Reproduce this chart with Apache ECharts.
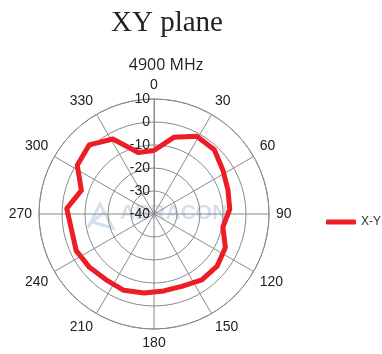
<!DOCTYPE html>
<html>
<head>
<meta charset="utf-8">
<script src="https://cdn.jsdelivr.net/npm/echarts@6/dist/echarts.min.js"></script>
<style>html,body{margin:0;padding:0;background:#fff}#c{width:382px;height:354px}</style>
</head>
<body>
<div id="c"></div>
<script>
const angles = [0, 14.4, 28.8, 43.2, 57.6, 72, 86.4, 100.8, 115.2, 129.6, 144, 158.4, 172.8, 187.2, 201.6, 216, 230.4, 244.8, 259.2, 273.6, 288, 302.4, 316.8, 331.2, 345.6, 360];
const gainXY = [-12.4, -5.6, -1.4, -1.7, -4.5, -6.2, -7.0, -9.5, -5.7, -4.4, -4.6, -6.3, -6.3, -5.4, -4.3, -4.6, -3.6, -2.6, -3.5, -2.0, -6.8, -0.5, 1.2, -2.8, -12.4, -12.4];
const radiusTicks = [-40, -30, -20, -10, 0, 10];
const angleTicks = [0, 30, 60, 90, 120, 150, 180, 210, 240, 270, 300, 330];
const seriesName = 'X-Y';
const titleText = 'XY plane';
const subText = '4900 MHz';

const chart = echarts.init(document.getElementById('c'));
const grid = '#8a8a8a';
chart.setOption({
  animation: false,
  title: [
    {text: titleText, left: 162, top: 4, textAlign: 'center',
     textStyle: {fontFamily: 'Liberation Serif', fontSize: 29, fontWeight: 'normal', color: '#222'}},
    {text: subText, left: 161, top: 52, textAlign: 'center',
     textStyle: {fontFamily: 'Open Sans', fontSize: 16, fontWeight: 'normal', color: '#222'}}
  ],
  legend: {
    data: [{name: seriesName, icon: 'roundRect'}],
    left: 321, top: 211, itemWidth: 30, itemHeight: 5,
    textStyle: {fontFamily: 'Liberation Sans', fontSize: 12, color: '#333'}
  },
  graphic: [
    {type: 'text', left: 120, top: 203, z: -1,
     style: {text: 'ABRACON', font: 'bold 21px Liberation Sans', fill: 'rgba(130,165,210,0.35)'}},
    {type: 'polyline', z: -1,
     shape: {points: [[88, 228], [100, 204], [113, 228], [92, 222], [104, 212]]},
     style: {stroke: 'rgba(130,165,210,0.35)', lineWidth: 3, fill: null}}
  ],
  polar: {center: [154, 214], radius: 115},
  angleAxis: {
    type: 'value', min: 0, max: 360, interval: 30, startAngle: 90, clockwise: true,
    axisLine: {show: true, lineStyle: {color: grid, width: 1}},
    axisTick: {show: false},
    axisLabel: {show: true, fontFamily: 'Liberation Sans', fontSize: 14, color: '#222', margin: 7,
      formatter: v => angleTicks.includes(v) ? String(v) : ''},
    splitLine: {show: true, lineStyle: {color: grid, width: 1}}
  },
  radiusAxis: {
    type: 'value', min: radiusTicks[0], max: radiusTicks[radiusTicks.length - 1], interval: 10,
    axisLine: {show: true, lineStyle: {color: grid, width: 1}},
    axisTick: {show: false},
    axisLabel: {show: true, fontFamily: 'Liberation Sans', fontSize: 14, color: '#222', margin: 4},
    splitLine: {show: true, lineStyle: {color: grid, width: 1}}
  },
  series: [{
    name: seriesName, type: 'line', coordinateSystem: 'polar',
    data: angles.map((a, i) => [gainXY[i], a]),
    showSymbol: false, symbol: 'none',
    lineStyle: {color: '#ee1c25', width: 5, join: 'round'},
    itemStyle: {color: '#ee1c25'}
  }]
});
</script>
</body>
</html>
